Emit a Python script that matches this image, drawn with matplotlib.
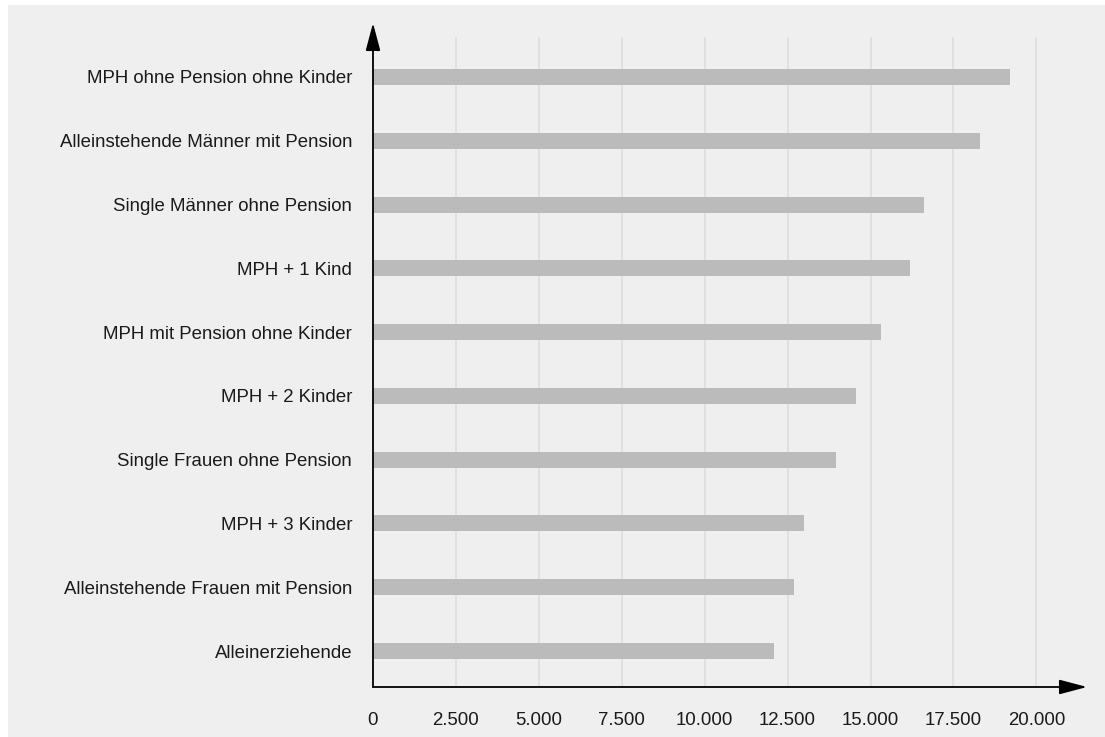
import matplotlib
matplotlib.use('Agg')
import matplotlib.pyplot as plt
from matplotlib.patches import Rectangle

# household types, bottom to top
categories = [
    'Alleinerziehende',
    'Alleinstehende Frauen mit Pension',
    'MPH + 3 Kinder',
    'Single Frauen ohne Pension',
    'MPH + 2 Kinder',
    'MPH mit Pension ohne Kinder',
    'MPH + 1 Kind',
    'Single Männer ohne Pension',
    'Alleinstehende Männer mit Pension',
    'MPH ohne Pension ohne Kinder',
]
values = [12100, 12700, 13000, 13950, 14550, 15300, 16200, 16600, 18300, 19200]
x_ticks = [0, 2500, 5000, 7500, 10000, 12500, 15000, 17500, 20000]
x_tick_labels = ['0', '2.500', '5.000', '7.500', '10.000', '12.500', '15.000', '17.500', '20.000']

BG = '#efefef'
BAR = '#bbbbbb'
GRID = '#dedede'
TEXT = '#1a1a1a'

plt.rcParams['font.family'] = ['Liberation Sans', 'DejaVu Sans']

W, H = 1105, 737
fig = plt.figure(figsize=(W / 100, H / 100), dpi=100, facecolor='white')

# grey panel with a thin white edge on the left and top
fig.add_artist(Rectangle((8 / W, 0), 1 - 8 / W, 1 - 5 / H, transform=fig.transFigure,
                         facecolor=BG, edgecolor='none', zorder=-10))

left, right, bottom, top = 373, 1087, 687, 23
ax = fig.add_axes([left / W, 1 - bottom / H, (right - left) / W, (bottom - top) / H])
ax.set_facecolor('none')
ax.set_zorder(1)

px_per_unit = 33.17 / 1000
ax.set_xlim(0, (right - left) / px_per_unit)
ax.set_ylim(-0.564, len(categories) - 1 + 0.846)

# vertical grid lines stop a bit below the arrow tip
ax.vlines(x_ticks[1:], -0.564, len(categories) - 1 + 0.627, colors=GRID, linewidth=1.2, zorder=1)

ax.barh(range(len(categories)), values, height=0.25, color=BAR, zorder=2)

ax.set_yticks(range(len(categories)))
ax.set_yticklabels(categories)
ax.set_xticks(x_ticks)
ax.set_xticklabels(x_tick_labels)
ax.tick_params(axis='y', length=0, pad=15, labelsize=13.4, labelcolor=TEXT)
ax.tick_params(axis='x', length=0, pad=18, labelsize=13.4, labelcolor=TEXT)

for side in ax.spines.values():
    side.set_visible(False)

# axis arrows
arrow = dict(arrowstyle='-|>,head_length=1.7,head_width=0.45', color='black', lw=1.3,
             shrinkA=0, shrinkB=0)
ax.annotate('', xy=(1, 0), xytext=(0, 0), xycoords='axes fraction', arrowprops=arrow,
            annotation_clip=False)
ax.annotate('', xy=(0, 1), xytext=(0, 0), xycoords='axes fraction', arrowprops=arrow,
            annotation_clip=False)

fig.savefig('out.png', dpi=100, facecolor='white')
